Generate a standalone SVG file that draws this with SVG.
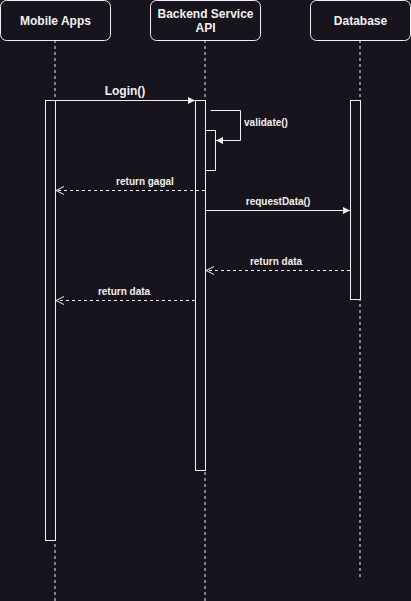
<svg xmlns="http://www.w3.org/2000/svg" width="411" height="601" viewBox="0 0 411 601">
<defs>
<style>
.bg{fill:#18141d}
.hd rect{fill:#18141d;stroke:#f0f0f0;stroke-width:1}
.hd text{font-family:"Liberation Sans",Arial,sans-serif;font-size:12px;font-weight:bold;fill:#f0f0f0;text-anchor:middle}
.life{stroke:#f0f0f0;stroke-width:1;stroke-dasharray:3 3;fill:none}
.act{fill:#18141d;stroke:#f0f0f0;stroke-width:1}
.msg{stroke:#f0f0f0;stroke-width:1;fill:none}
.ret{stroke:#f0f0f0;stroke-width:1;fill:none;stroke-dasharray:3 3}
.lbl{font-family:"Liberation Sans",Arial,sans-serif;font-size:10px;font-weight:bold;fill:#f0f0f0;text-anchor:middle}
.lbl12{font-family:"Liberation Sans",Arial,sans-serif;font-size:12px;font-weight:bold;fill:#f0f0f0;text-anchor:middle}
</style>
<marker id="fill" markerWidth="10" markerHeight="10" refX="7" refY="3.5" orient="auto" markerUnits="userSpaceOnUse">
<path d="M0,0 L7,3.5 L0,7 Z" fill="#f0f0f0"/>
</marker>
<marker id="open" markerWidth="12" markerHeight="12" refX="8" refY="4" orient="auto" markerUnits="userSpaceOnUse">
<path d="M0,0 L8,4 L0,8" fill="none" stroke="#f0f0f0" stroke-width="1"/>
</marker>
</defs>
<rect class="bg" x="0" y="0" width="411" height="601"/>
<g id="lifelines">
<line class="life" x1="55" y1="40" x2="55" y2="601"/>
<line class="life" x1="205" y1="40" x2="205" y2="601"/>
<line class="life" x1="360" y1="40" x2="360" y2="577"/>
</g>
<g id="mobile" class="hd">
<rect x="0.5" y="0.5" width="110" height="40" rx="6"/>
<text x="55.5" y="25">Mobile Apps</text>
</g>
<g id="backend" class="hd">
<rect x="150.5" y="0.5" width="110" height="40" rx="6"/>
<text x="205.5" y="18">Backend Service</text>
<text x="205.5" y="32">API</text>
</g>
<g id="database" class="hd">
<rect x="310.5" y="0.5" width="100" height="40" rx="6"/>
<text x="360.5" y="25">Database</text>
</g>
<g id="activations">
<rect class="act" x="45.5" y="100.5" width="10" height="440"/>
<rect class="act" x="195.5" y="100.5" width="10" height="370"/>
<rect class="act" x="350.5" y="100.5" width="10" height="199"/>
<rect class="act" x="205.5" y="130.5" width="10" height="40"/>
</g>
<g id="connectors">
<line class="msg" x1="55.5" y1="100.5" x2="195" y2="100.5" marker-end="url(#fill)"/>
<path class="msg" d="M210.5,110.5 L240.5,110.5 L240.5,140.5 L216,140.5" marker-end="url(#fill)"/>
<line class="ret" x1="205" y1="190.5" x2="56" y2="190.5" marker-end="url(#open)"/>
<line class="msg" x1="205.5" y1="210.5" x2="350" y2="210.5" marker-end="url(#fill)"/>
<line class="ret" x1="350" y1="270.5" x2="206" y2="270.5" marker-end="url(#open)"/>
<line class="ret" x1="195" y1="300.5" x2="56" y2="300.5" marker-end="url(#open)"/>
</g>
<g id="labels">
<text class="lbl12" x="125" y="95">Login()</text>
<text class="lbl" x="266" y="126">validate()</text>
<text class="lbl" x="145" y="185">return gagal</text>
<text class="lbl" x="278" y="205">requestData()</text>
<text class="lbl" x="276" y="265">return data</text>
<text class="lbl" x="124" y="295">return data</text>
</g>
</svg>
